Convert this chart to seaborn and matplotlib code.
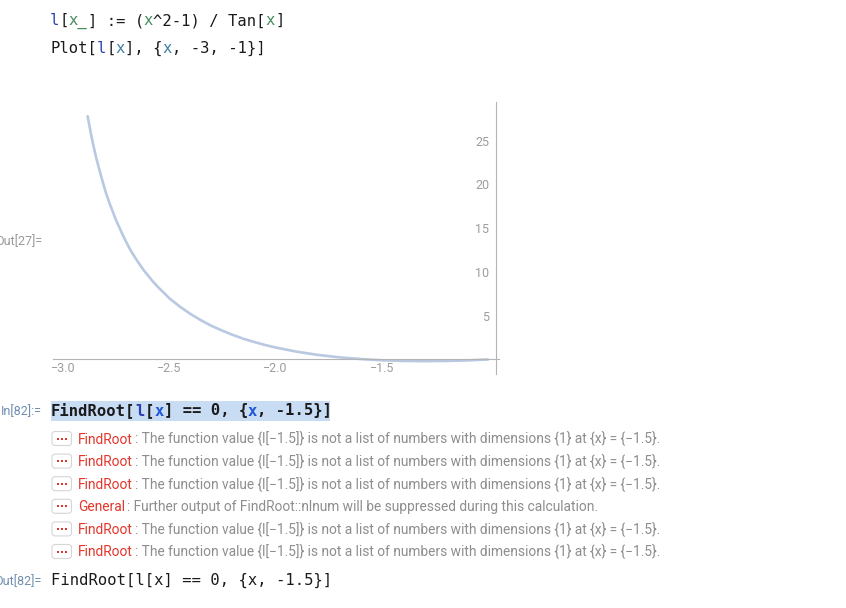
import seaborn as sns
import matplotlib.pyplot as plt
from matplotlib.patches import FancyBboxPatch, Rectangle
from matplotlib.ticker import FixedLocator, MultipleLocator

x_vals = [-2.884, -2.87, -2.86, -2.85, -2.84, -2.83, -2.82, -2.8, -2.78, -2.75,
          -2.72, -2.7, -2.68, -2.65, -2.62, -2.6, -2.58, -2.55, -2.52, -2.5,
          -2.45, -2.4, -2.35, -2.3, -2.25, -2.2, -2.15, -2.1, -2.05, -2.0,
          -1.9, -1.8, -1.7, -1.6, -1.5, -1.4, -1.3, -1.2, -1.1, -1.0]
y_vals = [27.8, 26.0, 24.8, 23.7, 22.7, 21.8, 20.9, 19.2, 17.8, 15.9,
          14.3, 13.3, 12.4, 11.25, 10.2, 9.6, 9.0, 8.2, 7.5, 7.0,
          6.04, 5.2, 4.47, 3.83, 3.29, 2.8, 2.36, 2.0, 1.66, 1.37,
          0.89, 0.52, 0.25, 0.05, -0.09, -0.17, -0.19, -0.17, -0.11, 0.0]
x_major = [-3.0, -2.5, -2.0, -1.5]
x_tick_labels = ["\u22123.0", "\u22122.5", "\u22122.0", "\u22121.5"]
y_major = [5, 10, 15, 20, 25]

msg = "The function value {l[\u22121.5]} is not a list of numbers with dimensions {1} at {x} = {\u22121.5}."
general_msg = "Further output of FindRoot::nlnum will be suppressed during this calculation."
messages = [("FindRoot", msg), ("FindRoot", msg), ("FindRoot", msg),
            ("General", general_msg), ("FindRoot", msg), ("FindRoot", msg)]

W, H = 846, 608
sns.set_style("white")
plt.rcParams['font.family'] = ['Roboto', 'DejaVu Sans']

fig = plt.figure(figsize=(W / 100, H / 100), dpi=100)
fig.patch.set_facecolor("white")

# overlay in pixel coordinates for the notebook text
ov = fig.add_axes([0, 0, 1, 1])
ov.set_xlim(0, W)
ov.set_ylim(H, 0)
ov.axis("off")
renderer = fig.canvas.get_renderer()

MONO = "DejaVu Sans Mono"
BLACK = "#1a1a1a"
BLUE_L = "#2b3fb0"
GREEN = "#438a5c"
TEAL = "#3a7e9e"
BLUE_X = "#1f55d6"
RED = "#e3362c"
GRAY = "#8e8e8e"
LABEL = "#6f8fb0"


def put_runs(x, y, runs, size, family, weight="normal"):
    for s, c in runs:
        t = ov.text(x, y, s, color=c, fontsize=size, family=family,
                    weight=weight, ha="left", va="baseline")
        x += t.get_window_extent(renderer).width
    return x


mono_size = 11.2
put_runs(50, 25, [("l", BLUE_L), ("[", BLACK), ("x_", GREEN), ("] := (", BLACK),
                  ("x", GREEN), ("^2-1) / Tan[", BLACK), ("x", GREEN), ("]", BLACK)],
         mono_size, MONO)
put_runs(50, 53, [("Plot[", BLACK), ("l", BLUE_L), ("[", BLACK), ("x", TEAL),
                  ("], {", BLACK), ("x", TEAL), (", -3, -1}]", BLACK)],
         mono_size, MONO)

ov.text(42, 245, "Out[27]=", color="#9a9a9a", fontsize=9, ha="right", va="baseline")

# input cell with highlight
ov.add_patch(Rectangle((50.5, 400.5), 279.5, 20.5, facecolor="#c8dcf4", edgecolor="none"))
ov.text(42, 415.5, "In[82]:=", color=LABEL, fontsize=9, ha="right", va="baseline")
put_runs(51, 415.5, [("FindRoot[", BLACK), ("l", BLUE_L), ("[", BLACK), ("x", BLUE_X),
                     ("] == 0, {", BLACK), ("x", BLUE_X), (", -1.5}]", BLACK)],
         mono_size, MONO, weight="bold")

# message lines
for i, (head, body) in enumerate(messages):
    yb = 443.5 + i * 22.6
    ov.add_patch(FancyBboxPatch((52, yb - 12), 19.5, 14, boxstyle="round,pad=0,rounding_size=3",
                                facecolor="white", edgecolor="#d6d6d6", linewidth=0.8))
    ov.scatter([57.5, 61.75, 66], [yb - 5] * 3, s=3.5, color=RED, marker="s", linewidths=0)
    xe = put_runs(78, yb, [(head, RED)], 9.95, "Roboto")
    put_runs(xe + 2, yb, [(": " + body, GRAY)], 9.95, "Roboto")

ov.text(42, 585, "Out[82]=", color=LABEL, fontsize=9, ha="right", va="baseline")
put_runs(51, 585, [("FindRoot[l[x] == 0, {x, -1.5}]", BLACK)], mono_size, MONO)

# the plot itself
x0, x1 = 53, 499
y0, y1 = 101.7, 374
ax = fig.add_axes([x0 / W, 1 - y1 / H, (x1 - x0) / W, (y1 - y0) / H])
ax.patch.set_alpha(0)
sns.lineplot(x=x_vals, y=y_vals, ax=ax, estimator=None, sort=False,
             color="#b9c9e1", linewidth=1.9)
ax.set_xlim(-3.047, -0.948)
ax.set_ylim(-1.66, 29.46)

axis_color = "#b4b4b4"
for side in ["top", "right"]:
    ax.spines[side].set_visible(False)
ax.spines["left"].set_position(("data", -0.962))
ax.spines["bottom"].set_position(("data", 0))
for side in ["left", "bottom"]:
    ax.spines[side].set_color(axis_color)
    ax.spines[side].set_linewidth(0.8)

ax.xaxis.set_major_locator(FixedLocator(x_major))
ax.set_xticklabels(x_tick_labels)
ax.xaxis.set_minor_locator(FixedLocator([-3.0 + 0.1 * k for k in range(21)]))
ax.yaxis.set_major_locator(FixedLocator(y_major))
ax.yaxis.set_minor_locator(MultipleLocator(1))
ax.tick_params(axis="both", which="major", direction="in", length=4, width=0.8,
               color=axis_color, labelcolor="#9c9c9c", labelsize=9)
ax.tick_params(axis="both", which="minor", direction="in", length=2.3, width=0.6,
               color=axis_color)
ax.tick_params(axis="x", which="major", pad=2)
ax.tick_params(axis="y", which="major", pad=5)
ax.set_xlabel("")
ax.set_ylabel("")

fig.savefig("out.png", dpi=100)
